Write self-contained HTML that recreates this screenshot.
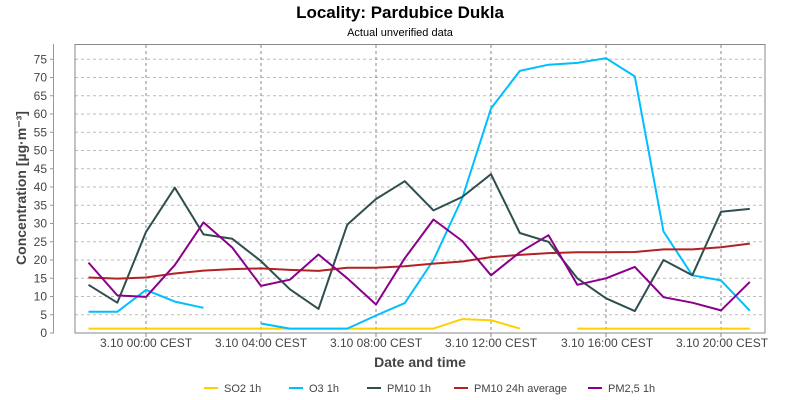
<!DOCTYPE html>
<html><head><style>body{margin:0;background:#fff}svg{display:block}text{font-family:"Liberation Sans",sans-serif}</style></head>
<body>
<svg id="s" width="800" height="400" xmlns="http://www.w3.org/2000/svg">
<rect width="800" height="400" fill="#fff"/>
<text x="400" y="18" text-anchor="middle" font-size="17" font-weight="bold" fill="#000">Locality: Pardubice Dukla</text>
<text x="400" y="36" text-anchor="middle" font-size="11" fill="#000">Actual unverified data</text>
<g id="grid"></g>
<rect x="75" y="44.5" width="690" height="288.5" fill="none" stroke="#888" stroke-width="1"/>
<line x1="53.5" y1="44" x2="53.5" y2="333" stroke="#999"/>
<g id="yt" font-size="12" fill="#444" text-anchor="end"></g>
<g font-size="12" fill="#444" text-anchor="middle">
<text x="146" y="347">3.10 00:00 CEST</text>
<text x="261" y="347">3.10 04:00 CEST</text>
<text x="376" y="347">3.10 08:00 CEST</text>
<text x="491" y="347">3.10 12:00 CEST</text>
<text x="607" y="347">3.10 16:00 CEST</text>
<text x="722" y="347">3.10 20:00 CEST</text>
</g>
<text x="420" y="367" text-anchor="middle" font-size="14" font-weight="bold" fill="#444">Date and time</text>
<text transform="translate(26,188) rotate(-90)" text-anchor="middle" font-size="14" font-weight="bold" fill="#444">Concentration [µg·m⁻³]</text>
<g id="ser"></g>
<g font-size="11" fill="#444">
<line x1="204" y1="388" x2="218" y2="388" stroke="#FFD000" stroke-width="2"/><text x="224" y="392">SO2 1h</text>
<line x1="289" y1="388" x2="303" y2="388" stroke="#00BFFF" stroke-width="2"/><text x="309" y="392">O3 1h</text>
<line x1="367" y1="388" x2="381" y2="388" stroke="#2F4F4F" stroke-width="2"/><text x="387" y="392">PM10 1h</text>
<line x1="454" y1="388" x2="468" y2="388" stroke="#B22222" stroke-width="2"/><text x="474" y="392">PM10 24h average</text>
<line x1="588" y1="388" x2="602" y2="388" stroke="#8B008B" stroke-width="2"/><text x="608" y="392">PM2,5 1h</text>
</g>
</svg>
<script>
var NS="http://www.w3.org/2000/svg";
function el(p,t,a){var e=document.createElementNS(NS,t);for(var k in a)e.setAttribute(k,a[k]);p.appendChild(e);return e;}
var Y=function(v){return 333-v*3.65;},X=function(i){return 146+(i-2)*28.75;};
var g=document.getElementById('grid'),yt=document.getElementById('yt');
for(var v=0;v<=75;v+=5){var y=Y(v);
 if(v>0)el(g,'line',{x1:75,x2:765,y1:y,y2:y,stroke:'#bbb','stroke-dasharray':'3,3'});
 el(g,'line',{x1:50,x2:54,y1:y,y2:y,stroke:'#999'});
 var t=el(yt,'text',{x:47,y:y+4});t.textContent=v;}
for(var h=0;h<=20;h+=4){var x=146+h*28.75;el(g,'line',{x1:x,x2:x,y1:45,y2:333,stroke:'#888','stroke-dasharray':'3,3'});el(g,'line',{x1:x,x2:x,y1:333,y2:337,stroke:'#888'});}
var n=null;
var S=[
["#FFD000",[1.2,1.2,1.2,1.2,1.2,1.2,1.2,1.2,1.2,1.2,1.2,1.2,1.2,3.8,3.5,1.2,n,1.2,1.2,1.2,1.2,1.2,1.2,1.2]],
["#00BFFF",[5.8,5.8,11.8,8.6,6.9,n,2.6,1.2,1.2,1.2,4.8,8.2,20,37,61.5,71.8,73.5,74,75.3,70.3,27.8,15.8,14.4,6.1]],
["#2F4F4F",[13.2,8.3,27.7,39.8,27,25.8,19.7,12,6.6,29.7,36.7,41.6,33.6,37.3,43.5,27.4,25,15,9.5,6,20,15.8,33.2,34]],
["#B22222",[15.2,14.9,15.2,16.3,17.1,17.5,17.7,17.3,17.0,17.9,17.9,18.3,19,19.6,20.8,21.4,21.9,22.1,22.1,22.2,22.9,22.9,23.5,24.5]],
["#8B008B",[19.3,10.3,9.9,18.6,30.3,23.4,12.9,14.6,21.5,15,7.8,20.5,31.1,25.2,15.8,22.1,26.8,13.2,15,18.1,9.8,8.3,6.2,14]]];
var sg=document.getElementById('ser');
S.forEach(function(s){var pts=[];function flush(){if(pts.length>1)el(sg,'polyline',{points:pts.join(' '),fill:'none',stroke:s[0],'stroke-width':2,'stroke-linejoin':'round'});pts=[];}
 s[1].forEach(function(v,i){if(v===null)flush();else pts.push(X(i).toFixed(1)+','+Y(v).toFixed(1));});flush();});
</script>
</body></html>
